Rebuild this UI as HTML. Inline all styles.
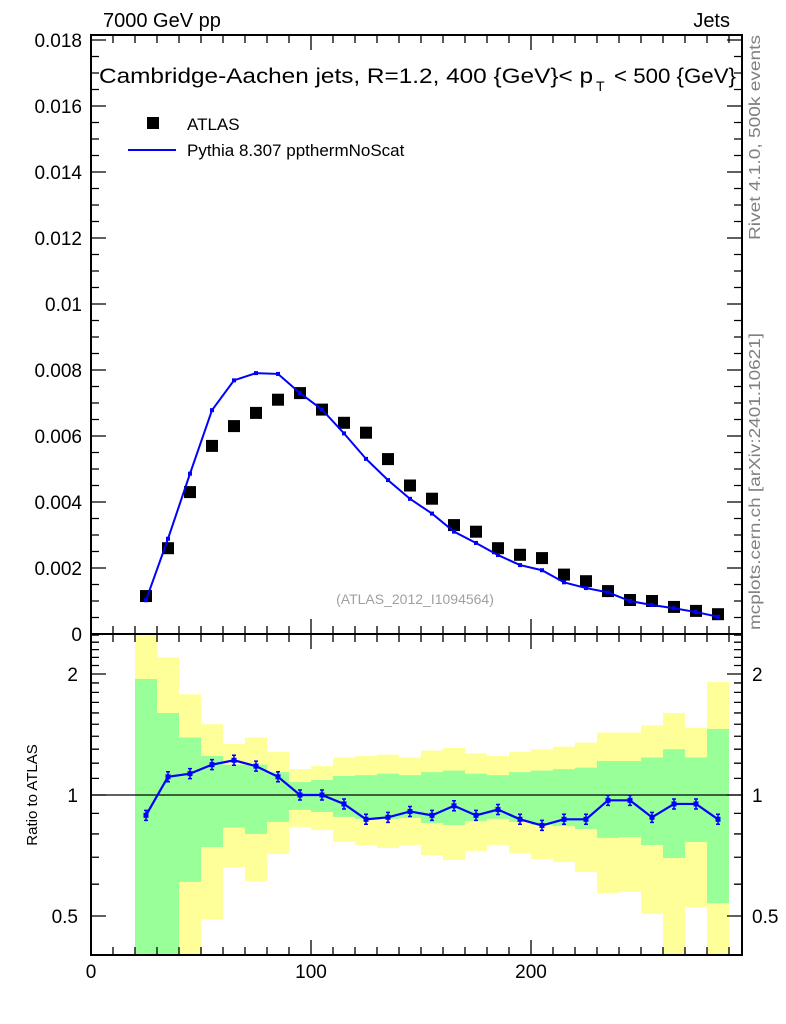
<!DOCTYPE html>
<html><head><meta charset="utf-8"><style>
html,body{margin:0;padding:0;background:#fff;}
svg{display:block;font-family:"Liberation Sans",Arial,sans-serif;}
</style></head><body>
<svg id="c" width="786" height="1024" viewBox="0 0 786 1024" xmlns="http://www.w3.org/2000/svg">
<g id="bands"></g>
<g id="marks"></g>
<g id="axes"></g>
<text x="103" y="27" font-size="20">7000 GeV pp</text>
<text x="730" y="27" font-size="20" text-anchor="end">Jets</text>
<text x="99" y="83" font-size="21" textLength="494" lengthAdjust="spacingAndGlyphs">Cambridge-Aachen jets, R=1.2, 400 {GeV}&lt; p</text>
<text x="596" y="91" font-size="14">T</text>
<text x="614" y="83" font-size="21" textLength="122" lengthAdjust="spacingAndGlyphs">&lt; 500 {GeV}</text>
<rect x="147" y="117" width="12" height="12" fill="#000"/>
<text x="187" y="130" font-size="17">ATLAS</text>
<line x1="128" y1="150" x2="176" y2="150" stroke="#0000ff" stroke-width="2"/>
<text x="187" y="156" font-size="17">Pythia 8.307 ppthermNoScat</text>
<text x="415" y="604" font-size="14" fill="#a0a0a0" text-anchor="middle">(ATLAS_2012_I1094564)</text>
<text transform="translate(760,240) rotate(-90)" font-size="16" fill="#808080" textLength="205" lengthAdjust="spacingAndGlyphs">Rivet 4.1.0,  500k events</text>
<text transform="translate(760,630) rotate(-90)" font-size="16" fill="#808080" textLength="297" lengthAdjust="spacingAndGlyphs">mcplots.cern.ch [arXiv:2401.10621]</text>
<text transform="translate(37,795) rotate(-90)" font-size="15" text-anchor="middle">Ratio to ATLAS</text>
</svg>
<script>
const binLo=[20,30,40,50,60,70,80,90,100,110,120,130,140,150,160,170,180,190,200,210,220,230,240,250,260,270,280];
const atlas=[0.00115,0.0026,0.0043,0.0057,0.0063,0.0067,0.0071,0.0073,0.0068,0.0064,0.0061,0.0053,0.0045,0.0041,0.0033,0.0031,0.0026,0.0024,0.0023,0.0018,0.0016,0.0013,0.00103,0.001,0.00082,0.0007,0.0006];
const ratio=[0.89,1.11,1.13,1.19,1.22,1.18,1.11,1.0,1.0,0.95,0.87,0.88,0.91,0.89,0.94,0.89,0.92,0.87,0.84,0.87,0.87,0.97,0.97,0.88,0.95,0.95,0.87];
const yelHi=[2.6,2.2,1.78,1.5,1.34,1.39,1.28,1.16,1.18,1.24,1.25,1.26,1.24,1.29,1.31,1.27,1.25,1.28,1.30,1.32,1.35,1.43,1.43,1.49,1.60,1.47,1.91];
const grnHi=[1.944,1.6,1.39,1.25,1.19,1.19,1.14,1.077,1.09,1.115,1.12,1.13,1.12,1.14,1.15,1.13,1.12,1.14,1.15,1.16,1.17,1.215,1.215,1.24,1.30,1.24,1.46];
const grnLo=[0.3,0.3,0.608,0.742,0.83,0.80,0.857,0.918,0.907,0.882,0.872,0.872,0.877,0.852,0.842,0.862,0.872,0.857,0.842,0.837,0.823,0.782,0.786,0.751,0.697,0.764,0.538];
const yelLo=[0.3,0.3,0.3,0.49,0.662,0.61,0.713,0.833,0.818,0.764,0.751,0.738,0.751,0.709,0.689,0.726,0.751,0.717,0.693,0.681,0.643,0.57,0.574,0.506,0.3,0.526,0.3];
const mainTicks=[0,0.002,0.004,0.006,0.008,0.01,0.012,0.014,0.016,0.018];
const mainTickLabels=["0","0.002","0.004","0.006","0.008","0.01","0.012","0.014","0.016","0.018"];
const xTicks=[0,100,200];
const ratioTicks=[0.5,1,2];
const ratioTickLabels=["0.5","1","2"];

const X0=91,X1=742,MT=35,MB=634,RT=634,RB=955;
const xs=v=>X0+v*2.2;
const ym=v=>MB-v*33000;
const clampR=r=>Math.min(Math.max(r,0.38),2.6);
const yr=r=>795-121*Math.log2(clampR(r));
const NS="http://www.w3.org/2000/svg";
function mk(parent,tag,attrs){const e=document.createElementNS(NS,tag);for(const k in attrs)e.setAttribute(k,attrs[k]);parent.appendChild(e);return e;}
const bands=document.getElementById('bands'),marks=document.getElementById('marks'),axes=document.getElementById('axes');

binLo.forEach((lo,i)=>{
  let y1=Math.max(yr(yelHi[i]),RT),y2=Math.min(yr(yelLo[i]),RB);
  let r=mk(bands,'rect',{x:xs(lo),y:y1,width:22,height:y2-y1,fill:'#ffff99'});
  
  
  let g1=Math.max(yr(grnHi[i]),RT),g2=Math.min(yr(grnLo[i]),RB);
  let g=mk(bands,'rect',{x:xs(lo),y:g1,width:22,height:g2-g1,fill:'#99ff99'});
  
  
});
let l1=mk(marks,'line',{x1:X0,x2:X1,y1:yr(1),y2:yr(1),stroke:'#000','stroke-width':1.3});



binLo.forEach((lo,i)=>{
  let c=xs(lo+5),y=ym(atlas[i]);
  let s=mk(marks,'rect',{x:c-6,y:y-6,width:12,height:12,fill:'#000'});
  
  
});
let pts=binLo.map((lo,i)=>xs(lo+5)+','+ym(atlas[i]*ratio[i])).join(' ');
let pl=mk(marks,'polyline',{points:pts,fill:'none',stroke:'#0000ff','stroke-width':2});


binLo.forEach((lo,i)=>{
  let c=xs(lo+5),y=ym(atlas[i]*ratio[i]);
  let p=mk(marks,'rect',{x:c-2,y:y-2,width:4,height:4,fill:'#0000ff'});
  
  
});
let rpts=binLo.map((lo,i)=>xs(lo+5)+','+yr(ratio[i])).join(' ');
let rl=mk(marks,'polyline',{points:rpts,fill:'none',stroke:'#0000ff','stroke-width':2.2});


binLo.forEach((lo,i)=>{
  let c=xs(lo+5),y=yr(ratio[i]);
  let e=mk(marks,'path',{d:`M${c-2},${y-5}h4M${c},${y-5}v10M${c-2},${y+5}h4`,stroke:'#0000ff','stroke-width':1.5,fill:'none'});
  
  
  let p=mk(marks,'rect',{x:c-2.5,y:y-2.5,width:5,height:5,fill:'#0000ff'});
  
  
});

let f1=mk(axes,'rect',{x:X0,y:MT,width:X1-X0,height:MB-MT,fill:'none',stroke:'#000','stroke-width':2});


let f2=mk(axes,'rect',{x:X0,y:RT,width:X1-X0,height:RB-RT,fill:'none',stroke:'#000','stroke-width':2});


let d='';
for(let v=0;v<=0.0182;v+=0.0005){let y=ym(v);let major=Math.abs(v/0.002-Math.round(v/0.002))<1e-6;let L=major?15:8;d+=`M${X0},${y}h${L}M${X1},${y}h${-L}`;}
[0.4,0.5,0.6,0.7,0.8,0.9,1,1.1,1.2,1.3,1.4,1.5,1.6,1.7,1.8,1.9,2,2.1,2.2,2.3,2.4,2.5].forEach(v=>{let y=yr(v);let major=(v===0.5||v===1||v===2);let L=major?15:8;d+=`M${X0},${y}h${L}M${X1},${y}h${-L}`;});
for(let v=0;v<=295;v+=10){let x=xs(v);let major=v%100===0;let L=major?15:8;d+=`M${x},${MB}v${-L}M${x},${MT}v${L}M${x},${RB}v${-L}M${x},${RT}v${L}`;}
let tk=mk(axes,'path',{d:d,stroke:'#000','stroke-width':1.3,fill:'none'});


mainTicks.forEach((v,i)=>{
  let t=mk(axes,'text',{x:82,y:ym(v)+7,'font-size':19,'text-anchor':'end'});
  t.textContent=mainTickLabels[i];
  
  
});
ratioTicks.forEach((v,i)=>{
  let t=mk(axes,'text',{x:78,y:yr(v)+7,'font-size':19,'text-anchor':'end'});
  t.textContent=ratioTickLabels[i];
  
  
  let t2=mk(axes,'text',{x:752,y:yr(v)+7,'font-size':19});
  t2.textContent=ratioTickLabels[i];
  
  
});
xTicks.forEach(v=>{
  let t=mk(axes,'text',{x:xs(v),y:978,'font-size':19,'text-anchor':'middle'});
  t.textContent=String(v);
  
  
});
</script>
</body></html>
